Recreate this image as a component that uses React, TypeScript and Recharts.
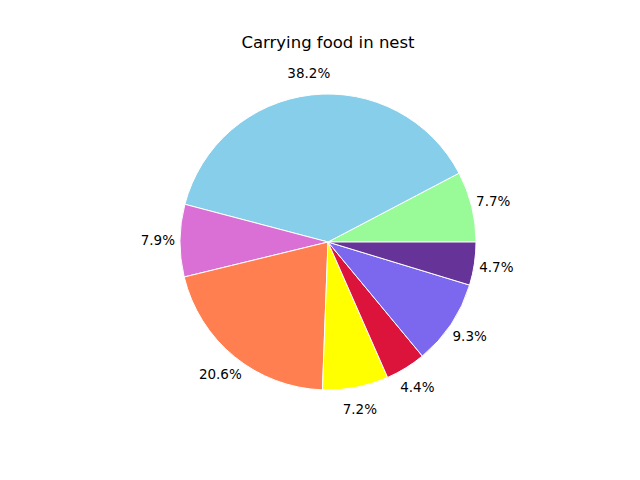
import React from "react";
import { PieChart, Pie, Cell } from "recharts";

const labels = ["A", "B", "C", "D", "E", "F", "G", "H"];
const shares = [7.7, 38.2, 7.9, 20.6, 7.2, 4.4, 9.3, 4.7];
const colors = [
  "#98FB98",
  "#87CEEB",
  "#DA70D6",
  "#FF7F50",
  "#FFFF00",
  "#DC143C",
  "#7B68EE",
  "#663399",
];

const data = labels.map((name, i) => ({ name, value: shares[i] }));

const RADIAN = Math.PI / 180;

const renderLabel = (props: any) => {
  const { cx, cy, midAngle, outerRadius, value } = props;
  const r = outerRadius * 1.15;
  const x = cx + r * Math.cos(-midAngle * RADIAN);
  const y = cy + r * Math.sin(-midAngle * RADIAN);
  return (
    <text
      x={x}
      y={y}
      fill="#000"
      textAnchor="middle"
      dominantBaseline="central"
      fontSize={13.5}
      fontFamily="DejaVu Sans"
    >
      {value.toFixed(1)}%
    </text>
  );
};

export default function App() {
  return (
    <div
      style={{
        position: "absolute",
        left: 0,
        top: 0,
        width: 640,
        height: 480,
        background: "#fff",
      }}
    >
      <div
        style={{
          position: "absolute",
          left: 0,
          top: 33,
          width: 656,
          textAlign: "center",
          fontFamily: "DejaVu Sans",
          fontSize: 16.5,
          lineHeight: "20px",
        }}
      >
        Carrying food in nest
      </div>
      <PieChart
        width={640}
        height={480}
        margin={{ top: 0, right: 0, bottom: 0, left: 0 }}
      >
        <Pie
          data={data}
          dataKey="value"
          cx={328}
          cy={242}
          outerRadius={148}
          startAngle={0}
          endAngle={360}
          stroke="#fff"
          strokeWidth={1}
          label={renderLabel}
          labelLine={false}
          isAnimationActive={false}
        >
          {data.map((d, i) => (
            <Cell key={d.name} fill={colors[i]} />
          ))}
        </Pie>
      </PieChart>
    </div>
  );
}
